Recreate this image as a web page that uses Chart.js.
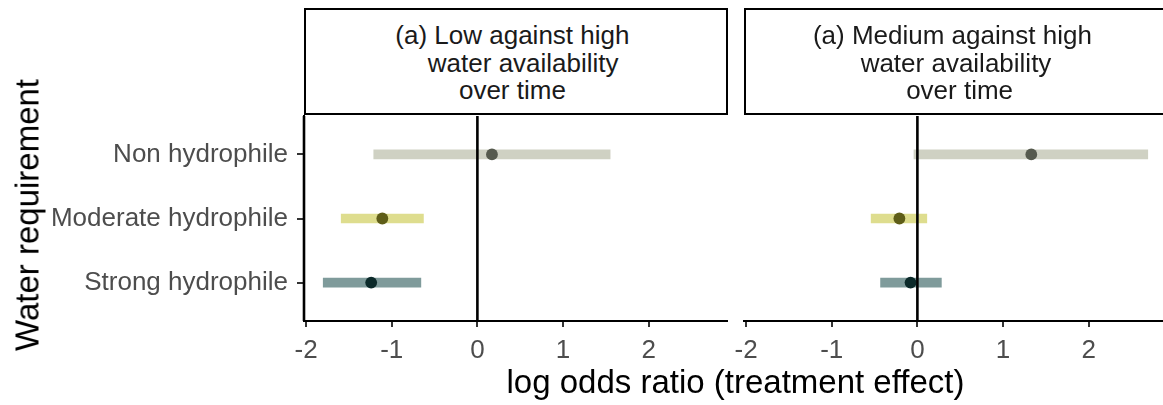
<!DOCTYPE html>
<html>
<head>
<meta charset="utf-8">
<script src="https://cdn.jsdelivr.net/npm/chart.js@4.4.1/dist/chart.umd.min.js"></script>
<style>
    html, body { margin: 0; padding: 0; background: #fff; }
    body { position: relative; width: 1163px; height: 405px; overflow: hidden;
           font-family: "Liberation Sans", Arial, sans-serif; }
    canvas { position: absolute; top: 0; }
    .strip { position: absolute; top: 8px; width: 424px; height: 107px; box-sizing: border-box;
             border: 2px solid #000; background: #fff; }
    .strip-text { position: absolute; left: 0; right: 0; top: 12px; text-align: center;
                  font-size: 26px; line-height: 27.5px; color: #1a1a1a; white-space: pre; }
    .title { position: absolute; font-size: 33px; line-height: 33px; color: #000; white-space: nowrap; }
</style>
</head>
<body>
<canvas id="panel-low" width="740" height="405" style="left:0;width:740px;height:405px"></canvas>
<canvas id="panel-med" width="451" height="405" style="left:724px;width:451px;height:405px"></canvas>

<div class="strip" style="left:304px"><div class="strip-text">(a) Low against high 
  water availability
over time </div></div>
<div class="strip" style="left:744px"><div class="strip-text">(a) Medium against high 
water availability
 over time</div></div>

<div class="title" style="left:26.6px;top:214.5px;transform:translate(-50%,-50%) rotate(-90deg)">Water requirement</div>
<div class="title" style="left:735.5px;top:364.5px;transform:translateX(-50%)">log odds ratio (treatment effect)</div>

<script>
(function () {
    'use strict';

    /* ── Data ── */
    var categories = ['Non hydrophile', 'Moderate hydrophile', 'Strong hydrophile'];

    // (a) Low against high water availability
    var lowEstimate = [0.17, -1.11, -1.24];
    var lowLower    = [-1.21, -1.59, -1.80];
    var lowUpper    = [1.55, -0.63, -0.66];

    // (a) Medium against high water availability
    var medEstimate = [1.33, -0.21, -0.08];
    var medLower    = [-0.04, -0.54, -0.43];
    var medUpper    = [2.69, 0.11, 0.28];

    var xTicks = [-2, -1, 0, 1, 2];
    var refLine = 0;

    /* ── Colours ── */
    var barColours   = ['#cfd1c3', '#dedd8e', '#7f9b9b'];
    var pointColours = ['#565a4e', '#5e5d18', '#0c2a2a'];

    Chart.defaults.font.family = '"Liberation Sans", Arial, sans-serif';
    Chart.defaults.animation = false;

    /* ── Shared x range: data range plus 5% each side (same for both facets) ── */
    var allVals = lowLower.concat(lowUpper, medLower, medUpper);
    var dMin = Math.min.apply(null, allVals);
    var dMax = Math.max.apply(null, allVals);
    var span = dMax - dMin;
    var xMin = dMin - 0.05 * span;
    var xMax = dMax + 0.05 * span;

    // categories sit at 1..n, with 0.6 expansion like a discrete ggplot axis
    var yMin = 0.4;
    var yMax = categories.length + 0.6;

    function vline(x) {
        return {
            type: 'line',
            data: [{ x: x, y: yMin }, { x: x, y: yMax }],
            borderColor: '#000',
            borderWidth: 2.6,
            pointRadius: 0,
            clip: false,
            order: 0
        };
    }

    function makePanel(canvasId, est, lower, upper, showY, padding) {
        var barData = categories.map(function (c, i) { return { x: [lower[i], upper[i]], y: i + 1 }; });
        var pointData = categories.map(function (c, i) { return { x: est[i], y: i + 1 }; });

        var datasets = [
            vline(refLine),
            {
                type: 'scatter',
                data: pointData,
                backgroundColor: pointColours,
                borderColor: pointColours,
                pointRadius: 5.9,
                pointBorderWidth: 0,
                order: 1
            },
            {
                type: 'bar',
                data: barData,
                backgroundColor: barColours,
                borderWidth: 0,
                barThickness: 9,
                order: 2
            }
        ];
        // left axis line only on the first facet
        if (showY) { datasets.push(vline(xMin)); }

        return new Chart(document.getElementById(canvasId), {
            type: 'bar',
            data: { datasets: datasets },
            options: {
                indexAxis: 'y',
                responsive: false,
                layout: { padding: padding },
                plugins: {
                    legend: { display: false },
                    tooltip: { enabled: false }
                },
                scales: {
                    x: {
                        type: 'linear',
                        min: xMin,
                        max: xMax,
                        offset: false,
                        afterBuildTicks: function (axis) {
                            axis.ticks = xTicks.map(function (v) { return { value: v }; });
                        },
                        afterFit: function (axis) { axis.height = 84; },
                        border: { display: true, color: '#000', width: 2 },
                        grid: {
                            offset: false,
                            drawOnChartArea: false,
                            drawTicks: true,
                            tickLength: 6,
                            tickColor: '#333',
                            lineWidth: 2
                        },
                        ticks: {
                            color: '#4d4d4d',
                            font: { size: 26 },
                            padding: 8,
                            maxRotation: 0,
                            callback: function (v) { return String(v); }
                        }
                    },
                    y: {
                        type: 'linear',
                        display: showY,
                        reverse: true,
                        offset: false,
                        min: yMin,
                        max: yMax,
                        afterBuildTicks: function (axis) {
                            axis.ticks = categories.map(function (c, i) { return { value: i + 1 }; });
                        },
                        afterFit: function (axis) { if (showY) { axis.width = 304; } },
                        border: { display: true, color: '#000', width: 2 },
                        grid: {
                            offset: false,
                            drawOnChartArea: false,
                            drawTicks: true,
                            tickLength: 7,
                            tickColor: '#333',
                            lineWidth: 2
                        },
                        ticks: {
                            color: '#4d4d4d',
                            font: { size: 26 },
                            padding: 9,
                            callback: function (v) { return categories[v - 1]; }
                        }
                    }
                }
            }
        });
    }

    makePanel('panel-low', lowEstimate, lowLower, lowUpper, true, { top: 116, right: 13, left: 0, bottom: 0 });
    makePanel('panel-med', medEstimate, medLower, medUpper, false, { top: 116, right: 8, left: 20, bottom: 0 });
})();
</script>
</body>
</html>
